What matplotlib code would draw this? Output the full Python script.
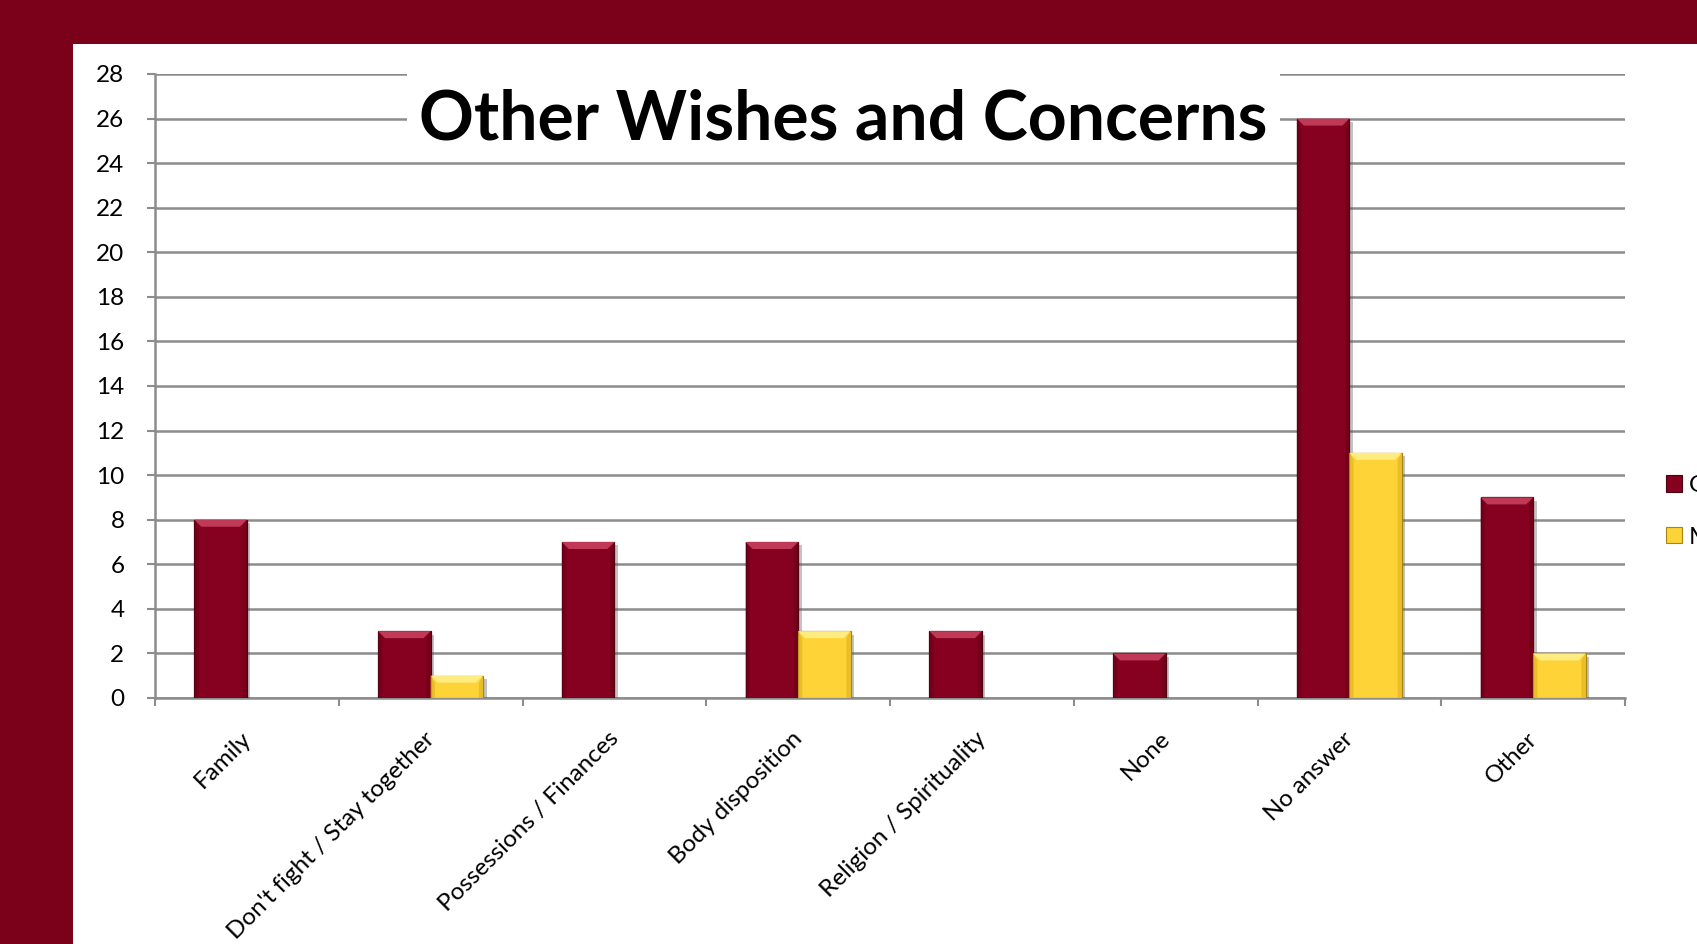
import matplotlib
matplotlib.use("Agg")
import matplotlib.pyplot as plt
import matplotlib.patheffects as pe
from matplotlib.patches import Patch, Polygon, Rectangle
import numpy as np

plt.rcParams["font.family"] = ["Lato", "DejaVu Sans"]

# Survey responses per category, two respondent groups.
categories = [
    "Family",
    "Don't fight / Stay together",
    "Possessions / Finances",
    "Body disposition",
    "Religion / Spirituality",
    "None",
    "No answer",
    "Other",
]
group_a = [8, 3, 7, 7, 3, 2, 26, 9]
group_b = [0, 1, 0, 3, 0, 0, 11, 2]
series_names = ["General", "Medical"]
y_ticks = list(range(0, 29, 2))

MAROON_BG = "#7b0019"
BAR_STYLES = [
    # face, top bevel, side bevel, edge
    ("#86001f", "#c03a58", "#6a0017", "#4e0010"),
    ("#fdd338", "#ffec80", "#dcb020", "#a88410"),
]
GRID = "#8c8c8c"

W, H = 1697, 944
fig = plt.figure(figsize=(W / 100, H / 100), dpi=100, facecolor=MAROON_BG)

# White slide panel on the maroon border.
fig.add_artist(Rectangle((73 / W, 0), 1 - 73 / W, 1 - 44 / H,
                         transform=fig.transFigure, facecolor="white",
                         edgecolor="none", zorder=0))

ax_left, ax_right = 155 / W, 1625 / W
ax_bottom, ax_top = 1 - 698 / H, 1 - 74 / H
ax = fig.add_axes([ax_left, ax_bottom, ax_right - ax_left, ax_top - ax_bottom])
ax.set_facecolor("none")

x = np.arange(len(categories))
bw = 1 / 3.5
ax.set_xlim(-0.5, len(categories) - 0.5)
ax.set_ylim(0, 28)

# pixel -> data conversion for the bevel size
ax_w_px = (ax_right - ax_left) * W
ax_h_px = (ax_top - ax_bottom) * H
px_x = (len(categories)) / ax_w_px
px_y = 28 / ax_h_px
bev = 7
dx, dy = bev * px_x, bev * px_y

shadow = [pe.SimplePatchShadow(offset=(2.5, -2.5), shadow_rgbFace="#555555", alpha=0.35),
          pe.Normal()]

for values, offset, (face, top, side, edge) in zip(
        [group_a, group_b], [-bw / 2, bw / 2], BAR_STYLES):
    bars = ax.bar(x + offset, values, width=bw, color=face, edgecolor=edge,
                  linewidth=0.9, zorder=3)
    for bar, v in zip(bars, values):
        if v <= 0:
            bar.set_visible(False)
            continue
        bar.set_path_effects(shadow)
        x0 = bar.get_x()
        x1 = x0 + bar.get_width()
        d_y = min(dy, v / 2)
        ax.add_patch(Polygon([(x0, v), (x1, v), (x1 - dx, v - d_y), (x0 + dx, v - d_y)],
                             closed=True, facecolor=top, edgecolor="none", zorder=4))
        ax.add_patch(Polygon([(x0, v), (x0 + dx * 0.6, v - d_y), (x0 + dx * 0.6, 0), (x0, 0)],
                             closed=True, facecolor=side, edgecolor="none", alpha=0.6, zorder=4))
        ax.add_patch(Polygon([(x1, v), (x1 - dx * 0.6, v - d_y), (x1 - dx * 0.6, 0), (x1, 0)],
                             closed=True, facecolor=side, edgecolor="none", alpha=0.6, zorder=4))

# gridlines and axes
ax.set_yticks(y_ticks)
ax.yaxis.grid(True, color=GRID, linewidth=1.8, zorder=1)
ax.set_axisbelow(True)
for name in ["top", "right"]:
    ax.spines[name].set_visible(False)
for name in ["left", "bottom"]:
    ax.spines[name].set_color(GRID)
    ax.spines[name].set_linewidth(1.8)
    ax.spines[name].set_zorder(2)
ax.tick_params(axis="y", direction="out", length=6, width=1.5, color=GRID,
               labelsize=17.5, pad=16, labelcolor="black")

ax.set_xticks(np.arange(-0.5, len(categories)), minor=True)
ax.set_xticks(x)
ax.set_xticklabels([])
ax.tick_params(axis="x", which="major", length=0)
ax.tick_params(axis="x", which="minor", direction="out", length=6, width=1.5, color=GRID)

# rotated category labels below each group
for xi, label in zip(x, categories):
    ax.annotate(label, xy=(xi, 0), xycoords=("data", "axes fraction"),
                xytext=(8, -30), textcoords="offset pixels",
                rotation=45, ha="right", va="top", fontsize=17.5, color="black")

# title on a white box that interrupts the top gridlines
fig.add_artist(Rectangle((407 / W, 1 - 158 / H), (1280 - 407) / W, (158 - 64) / H,
                         transform=fig.transFigure, facecolor="white",
                         edgecolor="none", zorder=5))
fig.text(843 / W, 1 - 120 / H, "Other Wishes and Concerns", ha="center", va="center",
         fontsize=49, fontweight="bold", color="black", zorder=6)

handles = [Patch(facecolor=s[0], edgecolor=s[3], linewidth=0.8) for s in BAR_STYLES]
fig.legend(handles, series_names, loc="upper left",
           bbox_to_anchor=(1666 / W, 1 - 475 / H), frameon=False,
           fontsize=17.5, handlelength=0.65, handleheight=0.65,
           handletextpad=0.3, labelspacing=1.27, borderaxespad=0, borderpad=0)

fig.savefig("out.png", dpi=100, facecolor=fig.get_facecolor())
